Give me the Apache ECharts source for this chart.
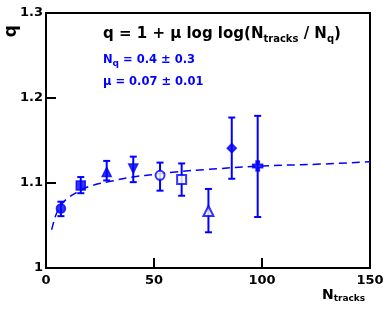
<!DOCTYPE html>
<html><head><meta charset="utf-8">
<script src="https://cdn.jsdelivr.net/npm/echarts@6/dist/echarts.min.js"></script>
<style>html,body{margin:0;padding:0;background:#fff}#c{width:390px;height:310px}</style>
</head><body><div id="c"></div>
<script>
// Data
const nTracks  = [6.9, 16.1, 28.1, 40.4, 52.8, 62.8, 75.2, 86.0, 98.0];
const qValues  = [1.070, 1.097, 1.113, 1.117, 1.109, 1.104, 1.067, 1.141, 1.120];
const qErrLow  = [1.061, 1.088, 1.103, 1.101, 1.091, 1.085, 1.042, 1.105, 1.060];
const qErrHigh = [1.078, 1.107, 1.126, 1.131, 1.124, 1.123, 1.093, 1.177, 1.179];
const fitN = [2.6, 3, 5, 7, 10, 15, 20, 30, 40, 50, 60, 75, 100, 125, 150];
const fitQ = [1.045, 1.049, 1.065, 1.074, 1.082, 1.090, 1.096, 1.102, 1.107, 1.110, 1.113, 1.116, 1.120, 1.122, 1.125];
const xTicks = [0, 50, 100, 150];
const yTicks = [1, 1.1, 1.2, 1.3];

const BLUE = '#0000ff';
const FONT = 'DejaVu Sans';
const markerSymbols = ['circle', 'rect', 'triangle', 'triangle', 'emptyCircle', 'emptyRect', 'emptyTriangle', 'diamond',
  'path://M-1,-3H1V-1H3V1H1V3H-1V1H-3V-1H-1Z'];
const markerRotate = [0, 0, 0, 180, 0, 0, 0, 0, 0];
const markerSize = [9, 9, 9, 9, 9, 9, 10, 9, 10];

const chart = echarts.init(document.getElementById('c'), null, {renderer: 'canvas'});
const errData = nTracks.map((x, i) => [x, qErrLow[i], qErrHigh[i]]);
const ptData = nTracks.map((x, i) => ({
  value: [x, qValues[i]],
  symbol: markerSymbols[i],
  symbolRotate: markerRotate[i],
  symbolSize: markerSize[i]
}));

chart.setOption({
  animation: false,
  grid: {left: 46, right: 20, top: 13, bottom: 42, show: true, borderColor: '#000', borderWidth: 2, backgroundColor: 'transparent'},
  xAxis: {
    type: 'value', min: xTicks[0], max: xTicks[xTicks.length - 1], interval: 50,
    axisLine: {show: true, lineStyle: {color: '#000', width: 2}},
    axisTick: {show: true, inside: true, length: 10, lineStyle: {color: '#000', width: 2}},
    splitLine: {show: false},
    axisLabel: {color: '#000', fontFamily: FONT, fontWeight: 'bold', fontSize: 13, margin: 6,
      formatter: v => xTicks.includes(v) ? String(v) : ''}
  },
  yAxis: {
    type: 'value', min: yTicks[0], max: yTicks[yTicks.length - 1], interval: 0.1,
    axisLine: {show: true, lineStyle: {color: '#000', width: 2}},
    axisTick: {show: true, inside: true, length: 10, lineStyle: {color: '#000', width: 2}},
    splitLine: {show: false},
    axisLabel: {color: '#000', fontFamily: FONT, fontWeight: 'bold', fontSize: 13, margin: 3,
      formatter: v => { const t = yTicks.find(y => Math.abs(y - v) < 1e-6); return t === undefined ? '' : (t === 1 ? '1' : t.toFixed(1)); }}
  },
  series: [
    {
      type: 'line', data: fitN.map((x, i) => [x, fitQ[i]]), smooth: true, showSymbol: false,
      lineStyle: {color: BLUE, width: 1.5, type: [8, 5]}, z: 1
    },
    {
      type: 'custom', data: errData, z: 2,
      renderItem: (params, api) => {
        const x = api.value(0);
        const p1 = api.coord([x, api.value(1)]);
        const p2 = api.coord([x, api.value(2)]);
        const c = 3.5;
        const st = {stroke: BLUE, lineWidth: 2};
        return {type: 'group', children: [
          {type: 'line', shape: {x1: p1[0], y1: p1[1], x2: p2[0], y2: p2[1]}, style: st},
          {type: 'line', shape: {x1: p1[0] - c, y1: p1[1], x2: p1[0] + c, y2: p1[1]}, style: st},
          {type: 'line', shape: {x1: p2[0] - c, y1: p2[1], x2: p2[0] + c, y2: p2[1]}, style: st}
        ]};
      }
    },
    {
      type: 'scatter', data: ptData, z: 3,
      itemStyle: {color: BLUE, borderColor: BLUE, borderWidth: 1.5}
    }
  ],
  graphic: [
    {type: 'text', left: 103, top: 27, style: {
      text: 'q = 1 + μ log log(N{s|tracks} / N{s|q})',
      font: 'bold 15px "DejaVu Sans"', fill: '#000',
      rich: {s: {font: 'bold 10px "DejaVu Sans"', fill: '#000', padding: [9, 0, 0, 0]}}
    }},
    {type: 'text', left: 103, top: 54, style: {
      text: 'N{s|q} = 0.4 ± 0.3',
      font: 'bold 11.5px "DejaVu Sans"', fill: BLUE,
      rich: {s: {font: 'bold 9px "DejaVu Sans"', fill: BLUE, padding: [7, 0, 0, 0]}}
    }},
    {type: 'text', left: 103, top: 76, style: {
      text: 'μ = 0.07 ± 0.01',
      font: 'bold 11.5px "DejaVu Sans"', fill: BLUE
    }},
    {type: 'text', left: 3, top: 25, rotation: Math.PI / 2, style: {
      text: 'q', font: 'bold 17px "DejaVu Sans"', fill: '#000'
    }},
    {type: 'text', left: 322, top: 288, style: {
      text: 'N{s|tracks}',
      font: 'bold 14px "DejaVu Sans"', fill: '#000',
      rich: {s: {font: 'bold 9px "DejaVu Sans"', fill: '#000', padding: [8, 0, 0, 0]}}
    }}
  ]
});
</script></body></html>
